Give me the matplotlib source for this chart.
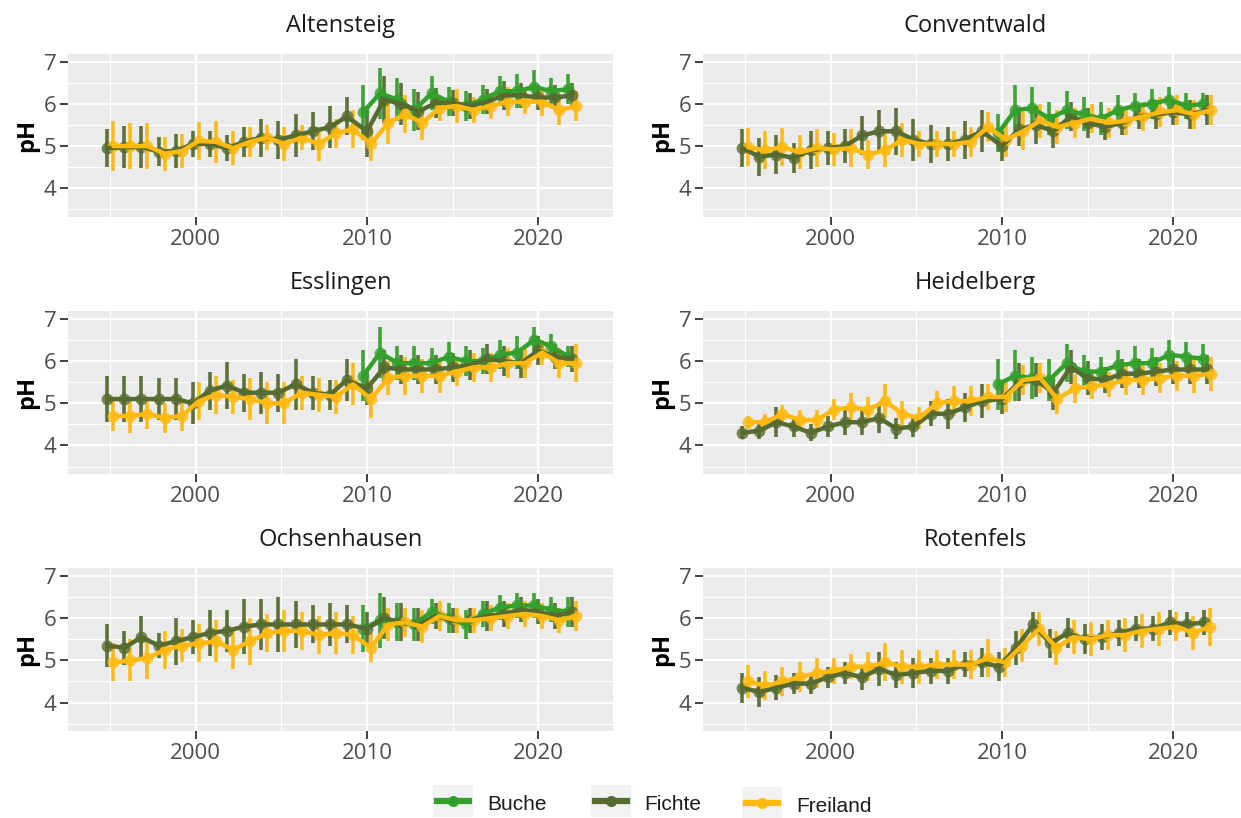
import matplotlib
matplotlib.use("Agg")
import matplotlib.pyplot as plt
import numpy as np

plt.rcParams['font.family'] = ['Open Sans', 'DejaVu Sans']

years = list(range(1995, 2023))
buche_years = list(range(2010, 2023))

# mean pH per year and half-length of the error bars
altensteig_buche = [5.8, 6.25, 6.1, 5.85, 6.25, 6.05, 5.95, 6.1, 6.3, 6.3, 6.4, 6.3, 6.35]
altensteig_buche_err = [0.65, 0.6, 0.5, 0.5, 0.4, 0.35, 0.35, 0.35, 0.35, 0.4, 0.4, 0.3, 0.35]
altensteig_fichte = [4.95, 4.97, 4.98, 4.87, 4.88, 5.05, 5.05, 4.95, 5.1, 5.2, 5.15, 5.25, 5.35, 5.45,
                     5.7, 5.35, 6.1, 6.0, 5.82, 6.02, 6.02, 5.95, 6.05, 6.2, 6.2, 6.15, 6.15, 6.2]
altensteig_fichte_err = [0.45, 0.5, 0.5, 0.35, 0.4, 0.3, 0.3, 0.3, 0.35, 0.45, 0.45, 0.5, 0.45, 0.5,
                         0.45, 0.6, 0.55, 0.5, 0.45, 0.35, 0.3, 0.3, 0.3, 0.35, 0.3, 0.3, 0.3, 0.3]
altensteig_freiland = [5.0, 5.0, 5.0, 4.82, 4.88, 5.12, 5.1, 4.95, 5.1, 5.2, 5.05, 5.2, 5.05, 5.3,
                       5.4, 5.05, 5.55, 5.75, 5.55, 5.9, 5.95, 5.85, 5.95, 6.05, 6.05, 6.05, 5.85, 5.95]
altensteig_freiland_err = [0.6, 0.55, 0.55, 0.4, 0.4, 0.45, 0.5, 0.4, 0.35, 0.3, 0.4, 0.3, 0.4, 0.35,
                           0.45, 0.4, 0.5, 0.45, 0.4, 0.3, 0.4, 0.3, 0.3, 0.35, 0.3, 0.35, 0.35, 0.35]

conventwald_buche = [5.3, 5.85, 5.9, 5.65, 5.85, 5.75, 5.65, 5.85, 5.95, 6.0, 6.1, 5.95, 6.0]
conventwald_buche_err = [0.45, 0.6, 0.5, 0.4, 0.45, 0.4, 0.4, 0.35, 0.3, 0.35, 0.3, 0.3, 0.25]
conventwald_fichte = [4.95, 4.75, 4.8, 4.72, 4.9, 4.95, 5.0, 5.25, 5.35, 5.35, 5.15, 5.05, 5.05, 5.15,
                      5.35, 5.0, 5.4, 5.5, 5.35, 5.7, 5.55, 5.45, 5.55, 5.7, 5.75, 5.8, 5.75, 5.85]
conventwald_fichte_err = [0.45, 0.45, 0.45, 0.35, 0.45, 0.4, 0.4, 0.45, 0.5, 0.55, 0.5, 0.45, 0.4, 0.45,
                          0.5, 0.35, 0.4, 0.45, 0.4, 0.35, 0.35, 0.3, 0.3, 0.3, 0.35, 0.3, 0.35, 0.35]
conventwald_freiland = [4.97, 4.9, 4.98, 4.85, 4.95, 4.92, 4.95, 4.8, 4.9, 5.15, 5.05, 5.05, 5.05, 5.1,
                        5.45, 5.15, 5.35, 5.6, 5.45, 5.55, 5.65, 5.55, 5.6, 5.7, 5.8, 5.85, 5.75, 5.85]
conventwald_freiland_err = [0.45, 0.45, 0.45, 0.4, 0.45, 0.4, 0.45, 0.35, 0.4, 0.4, 0.3, 0.3, 0.3, 0.35,
                            0.35, 0.4, 0.45, 0.4, 0.4, 0.35, 0.35, 0.35, 0.35, 0.35, 0.35, 0.35, 0.35, 0.35]

esslingen_buche = [5.65, 6.2, 5.95, 5.95, 5.95, 6.1, 6.0, 6.0, 6.15, 6.2, 6.5, 6.35, 6.1]
esslingen_buche_err = [0.6, 0.6, 0.4, 0.4, 0.35, 0.35, 0.35, 0.3, 0.35, 0.4, 0.3, 0.3, 0.25]
esslingen_fichte = [5.1, 5.1, 5.1, 5.1, 5.1, 5.0, 5.3, 5.42, 5.25, 5.25, 5.25, 5.45, 5.25, 5.2,
                    5.55, 5.35, 5.85, 5.8, 5.8, 5.8, 5.85, 5.9, 6.05, 6.0, 5.95, 6.25, 6.1, 6.05]
esslingen_fichte_err = [0.55, 0.55, 0.55, 0.5, 0.5, 0.5, 0.45, 0.55, 0.45, 0.5, 0.45, 0.6, 0.4, 0.35,
                        0.5, 0.4, 0.4, 0.35, 0.35, 0.35, 0.35, 0.35, 0.35, 0.35, 0.35, 0.35, 0.3, 0.3]
esslingen_freiland = [4.7, 4.7, 4.75, 4.65, 4.7, 5.05, 5.2, 5.15, 5.1, 5.0, 5.0, 5.25, 5.2, 5.15,
                      5.45, 5.1, 5.6, 5.65, 5.65, 5.65, 5.75, 5.85, 5.85, 5.95, 5.95, 6.2, 5.95, 5.95]
esslingen_freiland_err = [0.35, 0.4, 0.35, 0.35, 0.35, 0.45, 0.45, 0.4, 0.5, 0.5, 0.5, 0.4, 0.4, 0.4,
                          0.5, 0.45, 0.4, 0.45, 0.4, 0.4, 0.35, 0.35, 0.35, 0.35, 0.35, 0.3, 0.35, 0.45]

heidelberg_buche = [5.45, 5.65, 5.6, 5.55, 5.95, 5.75, 5.75, 5.9, 5.95, 5.95, 6.15, 6.1, 6.05]
heidelberg_buche_err = [0.6, 0.6, 0.5, 0.5, 0.45, 0.4, 0.35, 0.35, 0.4, 0.35, 0.35, 0.35, 0.35]
heidelberg_fichte = [4.3, 4.35, 4.55, 4.45, 4.3, 4.45, 4.55, 4.55, 4.65, 4.4, 4.45, 4.75, 4.75, 4.9,
                     5.05, 5.1, 5.5, 5.55, 5.25, 5.85, 5.6, 5.55, 5.7, 5.7, 5.75, 5.8, 5.8, 5.8]
heidelberg_fichte_err = [0.15, 0.2, 0.35, 0.25, 0.2, 0.25, 0.3, 0.3, 0.35, 0.25, 0.25, 0.3, 0.35, 0.35,
                         0.4, 0.35, 0.45, 0.4, 0.4, 0.4, 0.4, 0.3, 0.35, 0.35, 0.35, 0.35, 0.35, 0.35]
heidelberg_freiland = [4.55, 4.55, 4.75, 4.6, 4.6, 4.85, 4.9, 4.85, 5.05, 4.75, 4.65, 5.0, 5.05, 5.05,
                       5.15, 5.15, 5.55, 5.6, 5.1, 5.35, 5.4, 5.45, 5.55, 5.55, 5.6, 5.65, 5.65, 5.7]
heidelberg_freiland_err = [0.15, 0.2, 0.2, 0.25, 0.25, 0.25, 0.35, 0.3, 0.4, 0.3, 0.25, 0.3, 0.35, 0.35,
                           0.3, 0.35, 0.35, 0.35, 0.35, 0.35, 0.3, 0.3, 0.35, 0.35, 0.35, 0.35, 0.4, 0.4]

ochsenhausen_buche = [5.75, 5.95, 5.9, 5.85, 6.15, 6.0, 5.85, 6.1, 6.25, 6.3, 6.3, 6.2, 6.15]
ochsenhausen_buche_err = [0.55, 0.65, 0.45, 0.4, 0.3, 0.35, 0.35, 0.3, 0.3, 0.3, 0.3, 0.3, 0.35]
ochsenhausen_fichte = [5.35, 5.3, 5.55, 5.35, 5.45, 5.55, 5.65, 5.7, 5.8, 5.85, 5.85, 5.85, 5.85, 5.85,
                       5.85, 5.75, 6.0, 5.9, 5.85, 6.05, 5.95, 5.95, 6.05, 6.1, 6.2, 6.15, 6.05, 6.15]
ochsenhausen_fichte_err = [0.5, 0.4, 0.5, 0.3, 0.55, 0.4, 0.55, 0.5, 0.65, 0.6, 0.65, 0.55, 0.45, 0.5,
                           0.45, 0.4, 0.5, 0.45, 0.4, 0.3, 0.3, 0.3, 0.35, 0.3, 0.3, 0.3, 0.3, 0.35]
ochsenhausen_freiland = [4.95, 5.0, 5.05, 5.25, 5.35, 5.4, 5.45, 5.25, 5.45, 5.65, 5.7, 5.7, 5.6, 5.65,
                         5.6, 5.3, 5.85, 5.9, 5.8, 6.05, 5.95, 5.95, 6.0, 6.05, 6.1, 6.05, 5.95, 6.05]
ochsenhausen_freiland_err = [0.45, 0.5, 0.5, 0.45, 0.4, 0.45, 0.5, 0.45, 0.55, 0.45, 0.5, 0.45, 0.45, 0.5,
                             0.45, 0.35, 0.4, 0.35, 0.4, 0.35, 0.3, 0.3, 0.3, 0.3, 0.3, 0.3, 0.3, 0.35]

rotenfels_fichte = [4.35, 4.25, 4.35, 4.45, 4.45, 4.6, 4.7, 4.6, 4.8, 4.65, 4.7, 4.75, 4.75, 4.9,
                    4.95, 4.85, 5.3, 5.85, 5.4, 5.65, 5.5, 5.55, 5.65, 5.75, 5.75, 5.9, 5.85, 5.9]
rotenfels_fichte_err = [0.35, 0.35, 0.3, 0.25, 0.25, 0.25, 0.25, 0.3, 0.4, 0.3, 0.35, 0.3, 0.3, 0.3,
                        0.35, 0.35, 0.4, 0.3, 0.35, 0.35, 0.35, 0.3, 0.3, 0.3, 0.3, 0.3, 0.3, 0.3]
rotenfels_freiland = [4.5, 4.4, 4.5, 4.6, 4.7, 4.75, 4.85, 4.85, 4.95, 4.85, 4.85, 4.9, 4.9, 4.9,
                      5.05, 4.95, 5.35, 5.75, 5.3, 5.55, 5.5, 5.6, 5.6, 5.7, 5.75, 5.8, 5.65, 5.8]
rotenfels_freiland_err = [0.4, 0.35, 0.35, 0.35, 0.35, 0.3, 0.3, 0.35, 0.45, 0.4, 0.4, 0.35, 0.35, 0.35,
                          0.45, 0.35, 0.4, 0.4, 0.4, 0.4, 0.4, 0.35, 0.4, 0.4, 0.4, 0.35, 0.4, 0.45]

site_names = ['Altensteig', 'Conventwald', 'Esslingen', 'Heidelberg', 'Ochsenhausen', 'Rotenfels']
site_data = {
    'Altensteig': {'Buche': (buche_years, altensteig_buche, altensteig_buche_err),
                   'Fichte': (years, altensteig_fichte, altensteig_fichte_err),
                   'Freiland': (years, altensteig_freiland, altensteig_freiland_err)},
    'Conventwald': {'Buche': (buche_years, conventwald_buche, conventwald_buche_err),
                    'Fichte': (years, conventwald_fichte, conventwald_fichte_err),
                    'Freiland': (years, conventwald_freiland, conventwald_freiland_err)},
    'Esslingen': {'Buche': (buche_years, esslingen_buche, esslingen_buche_err),
                  'Fichte': (years, esslingen_fichte, esslingen_fichte_err),
                  'Freiland': (years, esslingen_freiland, esslingen_freiland_err)},
    'Heidelberg': {'Buche': (buche_years, heidelberg_buche, heidelberg_buche_err),
                   'Fichte': (years, heidelberg_fichte, heidelberg_fichte_err),
                   'Freiland': (years, heidelberg_freiland, heidelberg_freiland_err)},
    'Ochsenhausen': {'Buche': (buche_years, ochsenhausen_buche, ochsenhausen_buche_err),
                     'Fichte': (years, ochsenhausen_fichte, ochsenhausen_fichte_err),
                     'Freiland': (years, ochsenhausen_freiland, ochsenhausen_freiland_err)},
    'Rotenfels': {'Fichte': (years, rotenfels_fichte, rotenfels_fichte_err),
                  'Freiland': (years, rotenfels_freiland, rotenfels_freiland_err)},
}

stand_types = ['Buche', 'Fichte', 'Freiland']
colors = {'Buche': '#33a02c', 'Fichte': '#556B2F', 'Freiland': '#FFB90F'}


def dodge(site):
    # ggplot-style position_dodge(width=0.7): spread the groups present in a year
    out = {}
    groups = [g for g in stand_types if g in site]
    for g in groups:
        yrs = site[g][0]
        xs = []
        for y in yrs:
            present = [h for h in groups if y in site[h][0]]
            n = len(present)
            i = present.index(g)
            xs.append(y + (i - (n - 1) / 2) * 0.7 / n)
        out[g] = np.array(xs)
    return out


fig = plt.figure(figsize=(12.41, 8.18), dpi=100)

col_left = [68.3 / 1241, 703.3 / 1241]
row_top = [54, 311.2, 568.3]
ax_w = 544.4 / 1241
ax_h = 163 / 818

for k, name in enumerate(site_names):
    r, c = divmod(k, 2)
    ax = fig.add_axes([col_left[c], 1 - (row_top[r] + 163) / 818, ax_w, ax_h])
    ax.set_facecolor('#EBEBEB')
    for s in ax.spines.values():
        s.set_visible(False)
    ax.set_xlim(1992.55, 2024.35)
    ax.set_ylim(3.32, 7.18)
    ax.set_xticks([2000, 2010, 2020])
    ax.set_yticks([4, 5, 6, 7])
    ax.set_xticks([1995, 2005, 2015], minor=True)
    ax.set_yticks([3.5, 4.5, 5.5, 6.5], minor=True)
    ax.grid(which='major', color='white', lw=1.6)
    ax.grid(which='minor', color='white', lw=0.8)
    ax.set_axisbelow(True)
    ax.tick_params(which='major', length=5.5, width=1.3, color='#333333',
                   labelsize=16, labelcolor='#4D4D4D', pad=3)
    ax.tick_params(which='minor', length=0)
    ax.set_ylabel('pH', fontsize=17, fontweight='bold', labelpad=3, color='black')
    ax.set_title(name, fontsize=17, color='#1A1A1A', pad=16)

    site = site_data[name]
    xpos = dodge(site)
    groups = [g for g in stand_types if g in site]
    for g in groups:
        _, m, e = site[g]
        ax.vlines(xpos[g], np.array(m) - np.array(e), np.array(m) + np.array(e),
                  color=colors[g], lw=2.6, alpha=0.95)
    for g in groups:
        _, m, e = site[g]
        ax.plot(xpos[g], m, 'o', color=colors[g], ms=8.5, alpha=0.8, mec='none')
    for g in groups:
        _, m, e = site[g]
        ax.plot(xpos[g], m, '-', color=colors[g], lw=3.2, solid_capstyle='round')

# legend along the bottom
key_x = [433, 591, 742]
key_y = [785, 785, 787]
label_x = [487, 644, 796]
for g, kx, ky, lx in zip(stand_types, key_x, key_y, label_x):
    kax = fig.add_axes([kx / 1241, 1 - (ky + 32) / 818, 40 / 1241, 32 / 818])
    kax.set_facecolor('#F2F2F2')
    for s in kax.spines.values():
        s.set_visible(False)
    kax.set_xticks([])
    kax.set_yticks([])
    kax.set_xlim(0, 1)
    kax.set_ylim(0, 1)
    kax.plot([0.1, 0.9], [0.5, 0.5], color=colors[g], lw=4.5)
    kax.plot([0.5], [0.5], 'o', color=colors[g], ms=8, mec='none')
    fig.text(lx / 1241, 1 - (ky + 19) / 818, g, fontsize=15, family='Liberation Sans',
             va='center', ha='left', color='#1A1A1A')

fig.savefig('out.png', dpi=100)
